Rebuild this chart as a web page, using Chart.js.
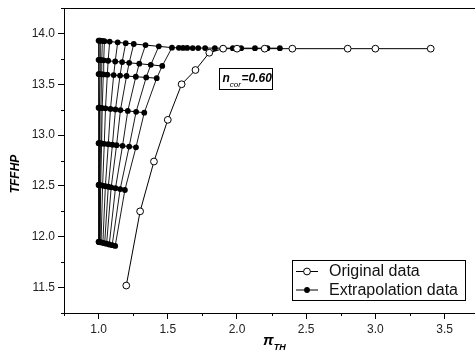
<!DOCTYPE html>
<html><head><meta charset="utf-8">
<script src="https://cdn.jsdelivr.net/npm/chart.js@4.4.0/dist/chart.umd.min.js"></script>
<style>html,body{margin:0;padding:0;background:#fff;}#wrap{width:475px;height:361px;}</style>
</head><body><div id="wrap"><canvas id="c" width="475" height="361"></canvas></div>
<script>
// ---- data ----
const originalX = [1.2, 1.3, 1.4, 1.5, 1.6, 1.7, 1.8, 1.9, 2.0, 2.2, 2.4, 2.8, 3.0, 3.4];
const originalY = [11.52, 12.25, 12.74, 13.15, 13.50, 13.64, 13.81, 13.85, 13.85, 13.85, 13.85, 13.85, 13.85, 13.85];

// extrapolation data, one array per row (same index = same fan line)
const extrapRowX = [
  [1.000, 1.001, 1.003, 1.006, 1.010, 1.018, 1.031, 1.044, 1.058, 1.077, 1.098, 1.120],
  [1.000, 1.002, 1.005, 1.010, 1.015, 1.029, 1.049, 1.070, 1.091, 1.122, 1.156, 1.190],
  [1.000, 1.003, 1.007, 1.014, 1.022, 1.041, 1.070, 1.100, 1.130, 1.173, 1.221, 1.270],
  [1.000, 1.003, 1.008, 1.017, 1.026, 1.050, 1.086, 1.122, 1.158, 1.211, 1.271, 1.330],
  [1.000, 1.004, 1.011, 1.021, 1.034, 1.063, 1.109, 1.155, 1.202, 1.269, 1.344, 1.420],
  [1.000, 1.005, 1.012, 1.023, 1.037, 1.069, 1.120, 1.170, 1.221, 1.294, 1.377, 1.460],
  [1.000, 1.005, 1.013, 1.027, 1.042, 1.080, 1.138, 1.196, 1.254, 1.339, 1.435, 1.530]
];
const extrapRowY = [
  [11.950, 11.950, 11.949, 11.948, 11.947, 11.944, 11.940, 11.935, 11.931, 11.924, 11.917, 11.910],
  [12.510, 12.510, 12.509, 12.508, 12.506, 12.503, 12.497, 12.492, 12.486, 12.478, 12.469, 12.460],
  [12.920, 12.920, 12.919, 12.918, 12.917, 12.914, 12.910, 12.905, 12.901, 12.894, 12.887, 12.880],
  [13.270, 13.270, 13.269, 13.268, 13.266, 13.263, 13.257, 13.252, 13.246, 13.238, 13.229, 13.220],
  [13.600, 13.600, 13.599, 13.598, 13.597, 13.594, 13.590, 13.585, 13.581, 13.574, 13.567, 13.560],
  [13.740, 13.739, 13.739, 13.737, 13.735, 13.731, 13.724, 13.718, 13.711, 13.702, 13.691, 13.680],
  [13.930, 13.929, 13.928, 13.927, 13.924, 13.920, 13.912, 13.904, 13.896, 13.885, 13.873, 13.860]
];
// continuation of the top extrapolation row along the plateau
const topTailX = [1.58, 1.61, 1.64, 1.68, 1.72, 1.77, 1.84, 1.90, 1.97, 2.03, 2.13, 2.22, 2.31];
const topTailY = [13.858, 13.857, 13.857, 13.856, 13.856, 13.856, 13.855, 13.855, 13.855, 13.855, 13.855, 13.855, 13.855];

const xTicks = [1.0, 1.5, 2.0, 2.5, 3.0, 3.5];
const yTicks = [11.5, 12.0, 12.5, 13.0, 13.5, 14.0];
const xMinorTicks = [0.75, 1.25, 1.75, 2.25, 2.75, 3.25];
const yMinorTicks = [11.25, 11.75, 12.25, 12.75, 13.25, 13.75, 14.25];
const legendLabels = ['Original data', 'Extrapolation data'];
const noteLabel = ['n', 'cor', '=0.60'];
const xTitle = ['\u03C0', 'TH'];
const yTitle = 'TFFHP';

// ---- build datasets ----
const pts = (xs, ys) => xs.map((x, i) => ({x: x, y: ys[i]}));
const datasets = [];
datasets.push({
  label: legendLabels[0], data: pts(originalX, originalY), showLine: true,
  borderColor: '#000', borderWidth: 1, pointRadius: 3.4, pointBackgroundColor: '#fff',
  pointBorderColor: '#000', pointBorderWidth: 1
});
extrapRowX.forEach((row, r) => {
  let xs = row.slice(), ys = extrapRowY[r].slice();
  if (r === extrapRowX.length - 1) { xs = xs.concat(topTailX); ys = ys.concat(topTailY); }
  datasets.push({
    label: legendLabels[1], data: pts(xs, ys), showLine: true,
    borderColor: '#000', borderWidth: 1, pointRadius: 2.9, pointBackgroundColor: '#000',
    pointBorderColor: '#000', pointBorderWidth: 0
  });
});
for (let c = 0; c < extrapRowX[0].length; c++) {
  const xs = extrapRowX.map(row => row[c]);
  const ys = extrapRowY.map(row => row[c]);
  datasets.push({
    label: legendLabels[1], data: pts(xs, ys), showLine: true,
    borderColor: '#000', borderWidth: 0.9, pointRadius: 0
  });
}

const FONT = '"Liberation Sans", Arial, sans-serif';

const decor = {
  id: 'decor',
  afterDraw(chart) {
    const ctx = chart.ctx, a = chart.chartArea;
    const xs = chart.scales.x, ys = chart.scales.y;
    ctx.save();
    ctx.strokeStyle = '#000'; ctx.lineWidth = 1;
    // top frame
    ctx.beginPath(); ctx.moveTo(a.left, a.top + 0.5); ctx.lineTo(475, a.top + 0.5); ctx.stroke();
    // minor ticks
    ctx.beginPath();
    xMinorTicks.forEach(v => { const p = Math.round(xs.getPixelForValue(v)) + 0.5; ctx.moveTo(p, a.bottom); ctx.lineTo(p, a.bottom + 3); });
    yMinorTicks.forEach(v => { const p = Math.round(ys.getPixelForValue(v)) + 0.5; ctx.moveTo(a.left - 3, p); ctx.lineTo(a.left, p); });
    ctx.stroke();

    // note box
    ctx.strokeRect(219.5, 68.5, 53, 21);
    ctx.fillStyle = '#000'; ctx.textBaseline = 'alphabetic'; ctx.textAlign = 'left';
    let x0 = 222.5;
    ctx.font = 'bold italic 12px ' + FONT; ctx.fillText(noteLabel[0], x0, 82); x0 += ctx.measureText(noteLabel[0]).width;
    ctx.font = 'italic 8px ' + FONT; ctx.fillText(noteLabel[1], x0, 87); x0 += ctx.measureText(noteLabel[1]).width;
    ctx.font = 'bold italic 12px ' + FONT; ctx.fillText(noteLabel[2], x0 + 0.5, 82);

    // legend
    ctx.strokeRect(292.5, 260.5, 173, 40);
    const rowsY = [271.5, 290];
    rowsY.forEach((yy, i) => {
      ctx.beginPath(); ctx.moveTo(296, yy); ctx.lineTo(318, yy); ctx.stroke();
      ctx.beginPath();
      if (i === 0) { ctx.arc(307, yy, 3.4, 0, Math.PI * 2); ctx.fillStyle = '#fff'; ctx.fill(); ctx.stroke(); }
      else { ctx.arc(307, yy, 2.9, 0, Math.PI * 2); ctx.fillStyle = '#000'; ctx.fill(); }
      ctx.fillStyle = '#111'; ctx.font = '16px ' + FONT; ctx.textBaseline = 'middle';
      ctx.fillText(legendLabels[i], 329, yy + 0.5);
    });

    // y title
    ctx.save();
    ctx.translate(15.5, 174); ctx.rotate(-Math.PI / 2);
    ctx.font = 'bold italic 12px ' + FONT; ctx.textAlign = 'center'; ctx.textBaseline = 'middle'; ctx.fillStyle = '#000';
    ctx.fillText(yTitle, 0, 0);
    ctx.restore();

    // x title
    ctx.fillStyle = '#000'; ctx.textBaseline = 'alphabetic'; ctx.textAlign = 'left';
    ctx.font = 'bold italic 15px ' + FONT; ctx.fillText(xTitle[0], 263, 345);
    const w = ctx.measureText(xTitle[0]).width;
    ctx.font = 'bold italic 9px ' + FONT; ctx.fillText(xTitle[1], 263 + w, 350);
    ctx.restore();
  }
};

new Chart(document.getElementById('c'), {
  type: 'scatter',
  data: { datasets: datasets },
  options: {
    responsive: false, animation: false, devicePixelRatio: 1,
    layout: { autoPadding: false, padding: { top: 8, right: 0, left: 0, bottom: 0 } },
    plugins: { legend: { display: false }, tooltip: { enabled: false } },
    scales: {
      x: {
        type: 'linear', min: 0.75, max: 3.72,
        afterBuildTicks: s => { s.ticks = xTicks.map(v => ({value: v})); },
        afterFit: s => { s.height = 48; s.paddingLeft = 0; s.paddingRight = 0; },
        ticks: { font: { family: FONT, size: 12 }, color: '#222', padding: 3, maxRotation: 0, autoSkip: false, callback: v => Number(v).toFixed(1) },
        grid: { drawOnChartArea: false, drawTicks: true, tickLength: 6, color: '#000', tickColor: '#000', tickWidth: 1 },
        border: { display: true, color: '#000', width: 1 }
      },
      y: {
        type: 'linear', min: 11.25, max: 14.25,
        afterBuildTicks: s => { s.ticks = yTicks.map(v => ({value: v})); },
        afterFit: s => { s.width = 64; s.paddingTop = 0; s.paddingBottom = 0; },
        ticks: { font: { family: FONT, size: 12 }, color: '#222', padding: 3, autoSkip: false, callback: v => Number(v).toFixed(1) },
        grid: { drawOnChartArea: false, drawTicks: true, tickLength: 6, color: '#000', tickColor: '#000', tickWidth: 1 },
        border: { display: true, color: '#000', width: 1 }
      }
    }
  },
  plugins: [decor]
});
</script></body></html>
